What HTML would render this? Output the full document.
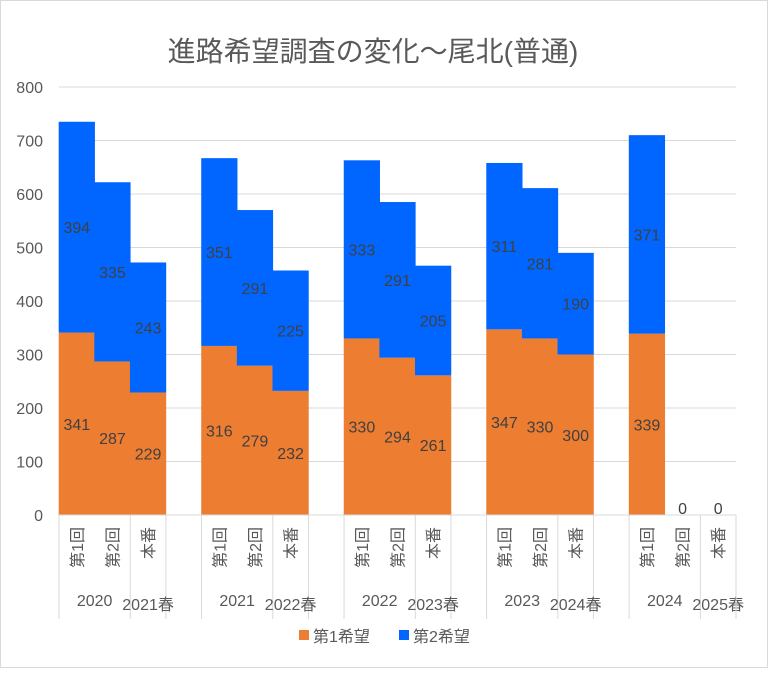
<!DOCTYPE html>
<html><head><meta charset="utf-8">
<style>
body{margin:0;background:#fff;}
#c{position:relative;width:768px;height:668px;background:#fff;border:1px solid #d9d9d9;box-sizing:border-box;}
svg text{font-family:"Liberation Sans","Noto Sans CJK JP",sans-serif;}
</style></head><body>
<div id="c">
<svg id="s" width="768" height="668" xmlns="http://www.w3.org/2000/svg">
<text x="372" y="60" text-anchor="middle" font-size="28" fill="#595959">進路希望調査の変化～尾北(普通)</text>
<g id="grid"></g><g id="bars"></g><g id="axis"></g>
<g>
<rect x="298" y="629" width="10" height="10" fill="#ED7D31"/>
<text x="312" y="641" font-size="16" fill="#595959">第1希望</text>
<rect x="398" y="629" width="10" height="10" fill="#0066FF"/>
<text x="412" y="641" font-size="16" fill="#595959">第2希望</text>
</g>
</svg>
</div>
<script>
const subLabels=["第1回","第2回","本番","","第1回","第2回","本番","","第1回","第2回","本番","","第1回","第2回","本番","","第1回","第2回","本番"];
const first=[341,287,229,null,316,279,232,null,330,294,261,null,347,330,300,null,339,0,0];
const second=[394,335,243,null,351,291,225,null,333,291,205,null,311,281,190,null,371,0,0];
const groupA=["2020","2021","2022","2023","2024"];
const groupB=["2021春","2022春","2023春","2024春","2025春"];
const yTicks=[0,100,200,300,400,500,600,700,800];
const NS="http://www.w3.org/2000/svg";
const x0=58,x1=735,y0=514,yTop=86,yMax=800;
const sw=(x1-x0)/subLabels.length;
const Y=v=>y0-(v/yMax)*(y0-yTop);
const X=i=>x0+i*sw;
function mk(tag,attrs,parent,txt){const e=document.createElementNS(NS,tag);for(const k in attrs)e.setAttribute(k,attrs[k]);if(txt!=null)e.textContent=txt;parent.appendChild(e);return e;}
const grid=document.getElementById('grid'),bars=document.getElementById('bars'),axis=document.getElementById('axis');
yTicks.forEach(t=>{
 const l=mk('line',{x1:x0,x2:x1,y1:Y(t),y2:Y(t),stroke:'#d9d9d9','stroke-width':1},grid);
 
 
 const tx=mk('text',{x:42,y:Y(t)+6,'text-anchor':'end','font-size':16,fill:'#595959'},axis,String(t));
 
 
});
subLabels.forEach((lab,i)=>{
 if(first[i]==null)return;
 const a=first[i],b=second[i];
 const r1=mk('rect',{x:X(i)-0.3,y:Y(a),width:sw+0.6,height:y0-Y(a),fill:'#ED7D31'},bars);
 
 
 const r2=mk('rect',{x:X(i)-0.3,y:Y(a+b),width:sw+0.6,height:Y(a)-Y(a+b),fill:'#0066FF'},bars);
 
 
 const cx=X(i)+sw/2;
 if(a>0){const t=mk('text',{x:cx,y:(Y(a)+y0)/2+6,'text-anchor':'middle','font-size':16,fill:'#404040'},bars,a);
 }
 if(b>0){const t=mk('text',{x:cx,y:(Y(a)+Y(a+b))/2+6,'text-anchor':'middle','font-size':16,fill:'#404040'},bars,b);
 }
 if(a===0&&b===0){const t=mk('text',{x:cx,y:y0-1,'text-anchor':'middle','font-size':16,fill:'#404040'},bars,'0');
 }
 if(lab){const t=mk('text',{x:0,y:0,'text-anchor':'end','font-size':16,fill:'#595959',transform:`translate(${cx+6},${y0+12}) rotate(-90)`},axis,lab);
 }
});
const base=mk('line',{x1:x0,x2:x1,y1:y0,y2:y0,stroke:'#d9d9d9','stroke-width':1},axis);

groupA.forEach((g,k)=>{
 const s=k*4;
 [s,s+2,s+3].forEach(j=>{const l=mk('line',{x1:X(j),x2:X(j),y1:y0,y2:618,stroke:'#d9d9d9','stroke-width':1},axis);
 });
 const t1=mk('text',{x:X(s+1),y:605,'text-anchor':'middle','font-size':16,fill:'#595959'},axis,g);
 
 const t2=mk('text',{x:X(s+2)+sw*0.5,y:609,'text-anchor':'middle','font-size':16,fill:'#595959'},axis,groupB[k]);
 
});
const le=mk('line',{x1:x1,x2:x1,y1:y0,y2:618,stroke:'#d9d9d9','stroke-width':1},axis);

</script>
</body></html>
